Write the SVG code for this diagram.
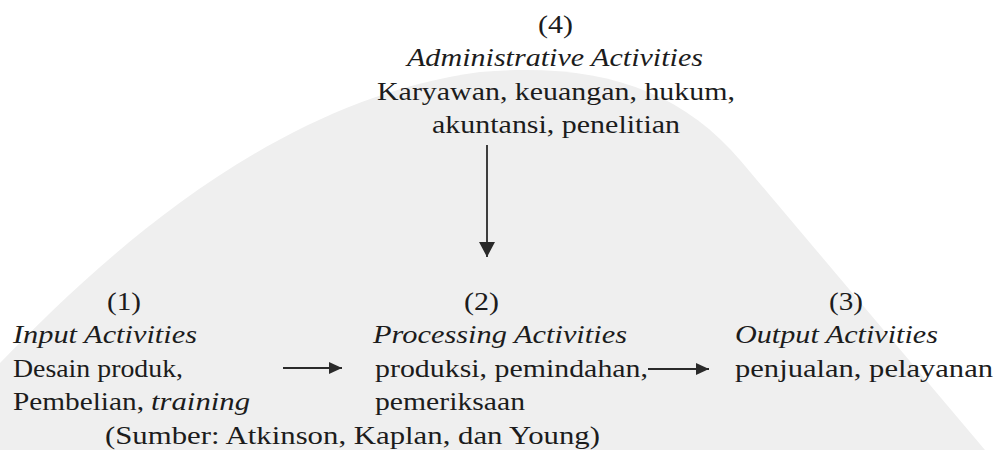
<svg xmlns="http://www.w3.org/2000/svg" width="995" height="450" viewBox="0 0 995 450">
<defs>
<marker id="ah" markerUnits="userSpaceOnUse" markerWidth="14" markerHeight="14" refX="13" refY="7" orient="auto"><path d="M0,1 L13,7 L0,13 z" fill="#2a2a2a"/></marker>
<marker id="ahv" markerUnits="userSpaceOnUse" markerWidth="16" markerHeight="16" refX="15" refY="8" orient="auto"><path d="M0,0 L15,8 L0,16 z" fill="#2a2a2a"/></marker>
</defs>
<style>
.t{font-family:"Liberation Serif","Times New Roman",serif;font-size:26px;fill:#1c1c1c}
.i{font-style:italic}
.c{stroke:#2a2a2a;stroke-width:1.8;fill:none}
</style>
<rect width="995" height="450" fill="#ffffff"/>
<g id="watermark">
<path d="M0,363 C100,260 270,100 480,72 C600,62 680,90 740,160 L985,450 L0,450 Z" fill="#efefef"/>
</g>
<g id="connectors">
<line class="c" x1="487" y1="145" x2="487" y2="257" marker-end="url(#ahv)"/>
<line class="c" x1="283" y1="368" x2="342" y2="368" marker-end="url(#ah)"/>
<line class="c" x1="648" y1="369" x2="709" y2="369" marker-end="url(#ah)"/>
</g>
<g id="node4">
<text class="t" x="538" y="33" textLength="35" lengthAdjust="spacingAndGlyphs">(4)</text>
<text class="t i" x="407" y="66" textLength="296" lengthAdjust="spacingAndGlyphs">Administrative Activities</text>
<text class="t" x="377" y="100" textLength="358" lengthAdjust="spacingAndGlyphs">Karyawan, keuangan, hukum,</text>
<text class="t" x="432" y="133" textLength="248" lengthAdjust="spacingAndGlyphs">akuntansi, penelitian</text>
</g>
<g id="node1">
<text class="t" x="107" y="310" textLength="34" lengthAdjust="spacingAndGlyphs">(1)</text>
<text class="t i" x="13" y="343" textLength="184" lengthAdjust="spacingAndGlyphs">Input Activities</text>
<text class="t" x="13" y="377" textLength="170" lengthAdjust="spacingAndGlyphs">Desain produk,</text>
<text class="t" x="13" y="410" textLength="131" lengthAdjust="spacingAndGlyphs">Pembelian,</text>
<text class="t i" x="151" y="410" textLength="99" lengthAdjust="spacingAndGlyphs">training</text>
</g>
<g id="node2">
<text class="t" x="464" y="310" textLength="35" lengthAdjust="spacingAndGlyphs">(2)</text>
<text class="t i" x="373" y="343" textLength="254" lengthAdjust="spacingAndGlyphs">Processing Activities</text>
<text class="t" x="375" y="377" textLength="273" lengthAdjust="spacingAndGlyphs">produksi, pemindahan,</text>
<text class="t" x="375" y="410" textLength="150" lengthAdjust="spacingAndGlyphs">pemeriksaan</text>
</g>
<g id="node3">
<text class="t" x="829" y="310" textLength="34" lengthAdjust="spacingAndGlyphs">(3)</text>
<text class="t i" x="735" y="343" textLength="203" lengthAdjust="spacingAndGlyphs">Output Activities</text>
<text class="t" x="735" y="377" textLength="258" lengthAdjust="spacingAndGlyphs">penjualan, pelayanan</text>
</g>
<g id="source">
<text class="t" x="105" y="444" textLength="495" lengthAdjust="spacingAndGlyphs">(Sumber: Atkinson, Kaplan, dan Young)</text>
</g>
</svg>
